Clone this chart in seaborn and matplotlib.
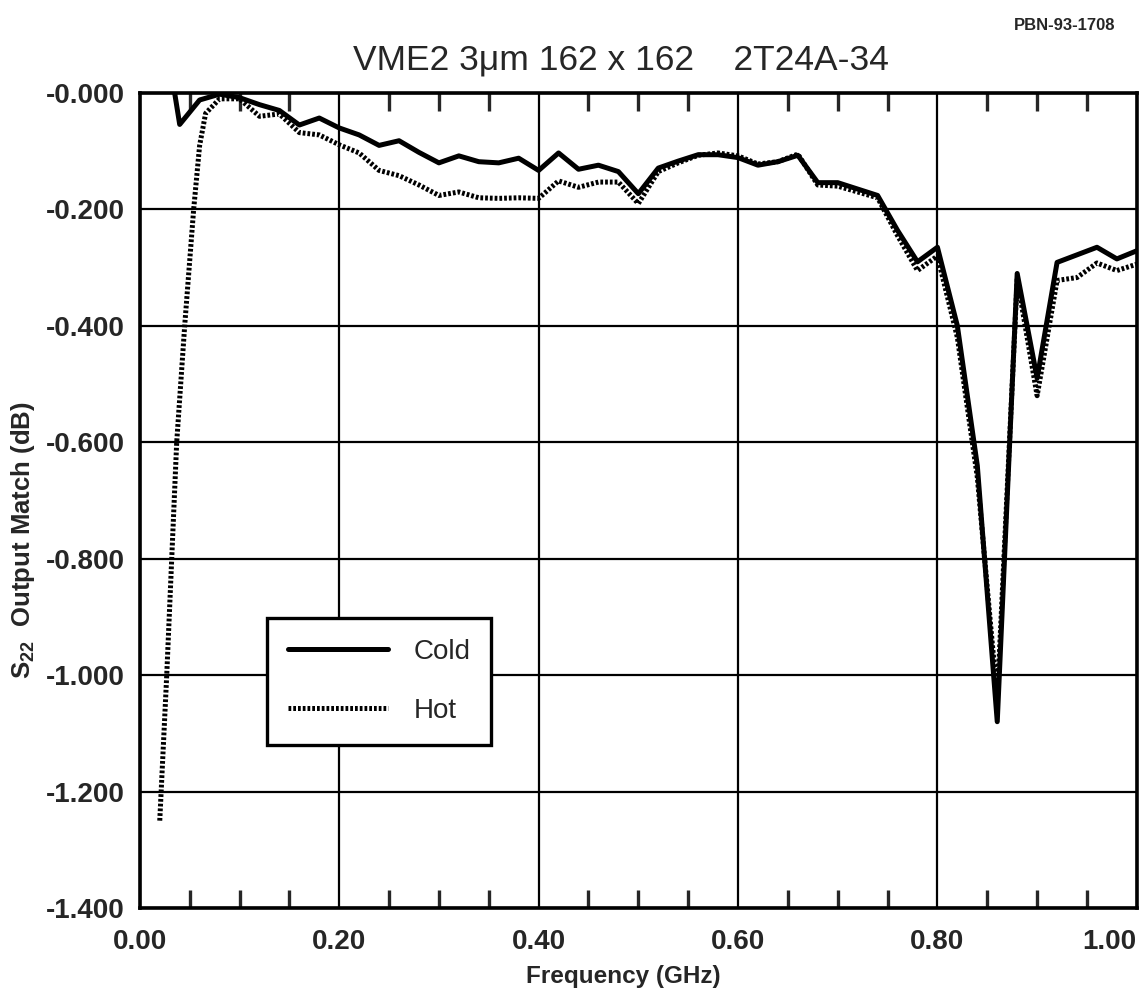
import pandas as pd
import matplotlib.pyplot as plt
import seaborn as sns
from matplotlib.ticker import MultipleLocator, FixedLocator

# data (frequency in GHz, S22 in dB)
cold_freq = [0.02, 0.04, 0.06, 0.08, 0.10, 0.12, 0.14, 0.16, 0.18, 0.20,
             0.22, 0.24, 0.26, 0.28, 0.30, 0.32, 0.34, 0.36, 0.38, 0.40,
             0.42, 0.44, 0.46, 0.48, 0.50, 0.52, 0.54, 0.56, 0.58, 0.60,
             0.62, 0.64, 0.66, 0.68, 0.70, 0.72, 0.74, 0.76, 0.78, 0.80,
             0.82, 0.84, 0.86, 0.88, 0.90, 0.92, 0.94, 0.96, 0.98, 1.00]
cold_s22 = [0.160, -0.054, -0.012, -0.002, -0.008, -0.020, -0.030, -0.055, -0.043, -0.060,
            -0.072, -0.090, -0.082, -0.102, -0.120, -0.108, -0.118, -0.120, -0.112, -0.133,
            -0.103, -0.131, -0.124, -0.135, -0.173, -0.129, -0.117, -0.106, -0.106, -0.111,
            -0.124, -0.118, -0.107, -0.154, -0.154, -0.165, -0.176, -0.236, -0.290, -0.265,
            -0.400, -0.640, -1.080, -0.310, -0.490, -0.291, -0.278, -0.265, -0.285, -0.271]

hot_freq = [0.020, 0.027, 0.032, 0.037, 0.045, 0.054, 0.060, 0.066, 0.08, 0.10,
            0.12, 0.14, 0.16, 0.18, 0.20, 0.22, 0.24, 0.26, 0.28, 0.30,
            0.32, 0.34, 0.36, 0.38, 0.40, 0.42, 0.44, 0.46, 0.48, 0.50,
            0.52, 0.54, 0.56, 0.58, 0.60, 0.62, 0.64, 0.66, 0.68, 0.70,
            0.72, 0.74, 0.76, 0.78, 0.80, 0.82, 0.84, 0.86, 0.88, 0.90,
            0.92, 0.94, 0.96, 0.98, 1.00]
hot_s22 = [-1.250, -1.000, -0.800, -0.600, -0.400, -0.200, -0.090, -0.035, -0.010, -0.010,
           -0.040, -0.036, -0.068, -0.072, -0.089, -0.103, -0.133, -0.142, -0.158, -0.176,
           -0.170, -0.180, -0.181, -0.180, -0.181, -0.151, -0.162, -0.153, -0.153, -0.190,
           -0.135, -0.120, -0.107, -0.103, -0.108, -0.122, -0.118, -0.105, -0.158, -0.160,
           -0.170, -0.180, -0.245, -0.305, -0.280, -0.420, -0.660, -1.040, -0.320, -0.520,
           -0.322, -0.317, -0.292, -0.305, -0.294]

y_ticks = [0.0, -0.2, -0.4, -0.6, -0.8, -1.0, -1.2, -1.4]
y_tick_labels = ["-0.000", "-0.200", "-0.400", "-0.600", "-0.800", "-1.000", "-1.200", "-1.400"]
x_ticks = [0.0, 0.2, 0.4, 0.6, 0.8, 1.0]
x_tick_labels = ["0.00", "0.20", "0.40", "0.60", "0.80", "1.00"]

sns.set_style("white")
plt.rcParams['font.family'] = ['Liberation Sans', 'DejaVu Sans']
plt.rcParams['mathtext.fontset'] = 'custom'
plt.rcParams['mathtext.rm'] = 'Liberation Sans'
plt.rcParams['mathtext.bf'] = 'Liberation Sans:bold'

cold = pd.DataFrame({"freq": cold_freq, "s22": cold_s22})
hot = pd.DataFrame({"freq": hot_freq, "s22": hot_s22})

fig = plt.figure(figsize=(11.46, 10), dpi=100)
ax = fig.add_axes([0.122, 0.092, 0.870, 0.815])

sns.lineplot(data=hot, x="freq", y="s22", ax=ax, color="black", lw=3.6,
             linestyle=(0, (0.55, 0.4)), label="Hot", estimator=None, zorder=3)
sns.lineplot(data=cold, x="freq", y="s22", ax=ax, color="black", lw=3.6,
             label="Cold", estimator=None, zorder=4)

ax.set_xlim(0, 1.0)
ax.set_ylim(-1.4, 0)
ax.xaxis.set_major_locator(FixedLocator(x_ticks))
ax.set_xticklabels(x_tick_labels)
ax.yaxis.set_major_locator(FixedLocator(y_ticks))
ax.set_yticklabels(y_tick_labels)
ax.xaxis.set_minor_locator(MultipleLocator(0.05))

ax.grid(True, which="major", color="black", lw=1.6)
ax.tick_params(axis="both", which="major", length=0, labelsize=20)
ax.tick_params(axis="x", which="major", pad=15)
ax.tick_params(axis="y", which="major", pad=11)
ax.tick_params(axis="x", which="minor", direction="in", length=13, width=2.4,
               top=True, bottom=True)
for lab in ax.get_xticklabels() + ax.get_yticklabels():
    lab.set_fontweight("bold")
# last x label sits inside the figure, as in the original
ax.get_xticklabels()[-1].set_horizontalalignment("right")
for sp in ax.spines.values():
    sp.set_color("black")
    sp.set_linewidth(2.6)

ax.set_xlabel("")
ax.set_ylabel("")
fig.text(0.544, 0.023, "Frequency (GHz)", ha="center", va="center",
         fontsize=17.5, fontweight="bold")
fig.text(0.020, 0.46, r"$\mathbf{S}_{\mathbf{22}}$  Output Match (dB)", ha="center", va="center",
         rotation=90, fontsize=18.5, fontweight="bold")
fig.text(0.542, 0.930, "VME2 3\u03bcm 162 x 162    2T24A-34", ha="center", va="baseline",
         fontsize=25.5)
fig.text(0.973, 0.970, "PBN-93-1708", ha="right", va="baseline",
         fontsize=12, fontweight="bold")

handles, labels = ax.get_legend_handles_labels()
order = [labels.index("Cold"), labels.index("Hot")]
leg = ax.legend([handles[i] for i in order], [labels[i] for i in order],
                loc="upper left", bbox_to_anchor=(0.128, 0.356), fontsize=20,
                handlelength=3.6, handletextpad=0.9, labelspacing=1.2,
                borderpad=0.75, borderaxespad=0, fancybox=False, framealpha=1,
                edgecolor="black")
leg.get_frame().set_linewidth(2.4)

fig.savefig("out.png", dpi=100)
